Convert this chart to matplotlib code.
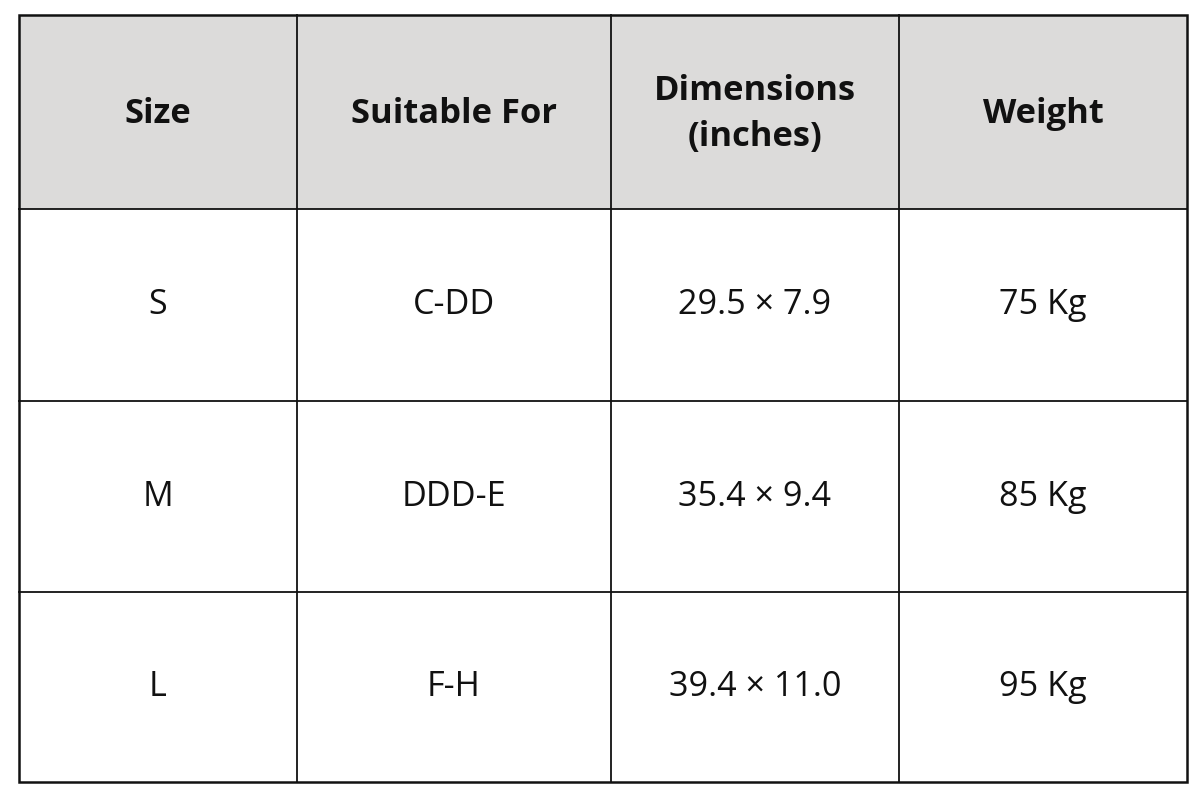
import matplotlib
matplotlib.use("Agg")
import matplotlib.pyplot as plt
from matplotlib.patches import Rectangle

headers = ["Size", "Suitable For", "Dimensions\n(inches)", "Weight"]
sizes = ["S", "M", "L"]
suitable = ["C-DD", "DDD-E", "F-H"]
dimensions = ["29.5 × 7.9", "35.4 × 9.4", "39.4 × 11.0"]
weights = ["75 Kg", "85 Kg", "95 Kg"]

col_edges = [19, 297, 611, 899, 1187]
row_edges = [15, 209, 401, 592, 782]

fig = plt.figure(figsize=(12, 8), dpi=100)
ax = fig.add_axes([0, 0, 1, 1])
ax.set_xlim(0, 1200)
ax.set_ylim(800, 0)
ax.axis("off")

ax.add_patch(Rectangle((col_edges[0], row_edges[0]), col_edges[-1] - col_edges[0],
                       row_edges[1] - row_edges[0], facecolor="#dcdbda", edgecolor="none"))

for x in col_edges[1:-1]:
    ax.plot([x, x], [row_edges[0], row_edges[-1]], color="#111111", lw=1.3)
for y in row_edges[1:-1]:
    ax.plot([col_edges[0], col_edges[-1]], [y, y], color="#111111", lw=1.3)
ax.add_patch(Rectangle((col_edges[0], row_edges[0]), col_edges[-1] - col_edges[0],
                       row_edges[-1] - row_edges[0], facecolor="none", edgecolor="#111111", lw=1.8))

def cx(i):
    return (col_edges[i] + col_edges[i + 1]) / 2

def cy(j):
    return (row_edges[j] + row_edges[j + 1]) / 2

for i, h in enumerate(headers):
    ax.text(cx(i), cy(0) + 2, h, ha="center", va="center", fontsize=24.8, fontweight="bold",
            family="Open Sans", color="#111111", linespacing=1.45)

rows = list(zip(sizes, suitable, dimensions, weights))
for j, r in enumerate(rows):
    for i, v in enumerate(r):
        ax.text(cx(i), cy(j + 1), v, ha="center", va="center", fontsize=24.6,
                family="Open Sans", color="#111111")

fig.savefig("out.png", dpi=100, facecolor="white")
